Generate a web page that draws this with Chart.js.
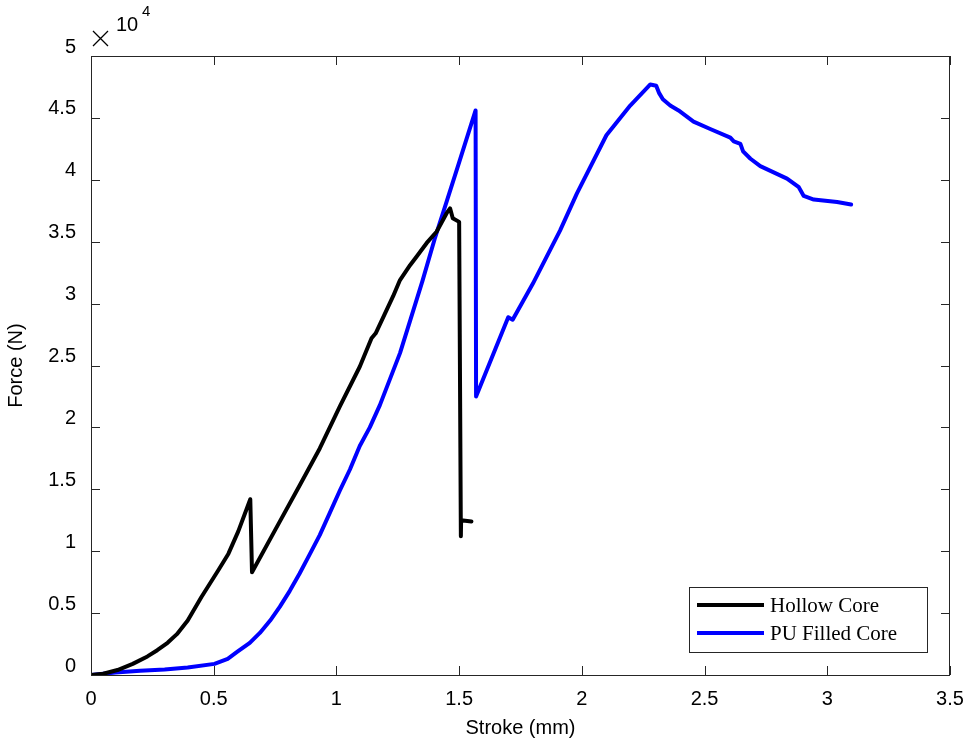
<!DOCTYPE html>
<html>
<head>
    <title>Force vs Stroke</title>
    <meta charset="utf-8">
    <style>
        body{ margin:0; background:#fff;}
        #wrap{ width:972px; height:750px;}
    </style>
    <script src="https://cdn.jsdelivr.net/npm/chart.js@4.4.0/dist/chart.umd.min.js"></script>
</head>
<body>
    <div id="wrap"><canvas id="myChart" width="972" height="750"></canvas></div>

    <script>
        // Hollow core: stroke (mm) and force (N)
        var hollowStroke = [0, 0.05, 0.108, 0.17, 0.23, 0.27, 0.312, 0.35, 0.394, 0.45, 0.52, 0.56,
            0.60, 0.649, 0.656, 0.75, 0.85, 0.932, 1.014, 1.095, 1.143, 1.16, 1.231, 1.259,
            1.30, 1.327, 1.368, 1.408, 1.449, 1.463, 1.474, 1.50, 1.507, 1.508, 1.55];
        var hollowForce = [0, 100, 400, 900, 1500, 2000, 2600, 3300, 4400, 6300, 8500, 9800,
            11600, 14200, 8300, 11700, 15300, 18300, 21700, 24900, 27200, 27600, 30600, 31900,
            33100, 33800, 34900, 35800, 37300, 37700, 36900, 36600, 11200, 12500, 12400];

        // PU filled core: stroke (mm) and force (N)
        var puStroke = [0, 0.1, 0.2, 0.3, 0.394, 0.503, 0.557, 0.598, 0.647, 0.688, 0.73, 0.769,
            0.81, 0.85, 0.89, 0.932, 0.973, 1.014, 1.055, 1.095, 1.136, 1.177, 1.218, 1.259,
            1.30, 1.35, 1.40, 1.45, 1.50, 1.567, 1.569, 1.70, 1.718, 1.80, 1.911, 1.98, 2.10,
            2.197, 2.279, 2.303, 2.315, 2.33, 2.36, 2.394, 2.455, 2.523, 2.605, 2.619, 2.646,
            2.657, 2.687, 2.727, 2.836, 2.884, 2.904, 2.945, 3.04, 3.097];
        var puForce = [0, 200, 350, 450, 600, 900, 1300, 1900, 2600, 3400, 4400, 5500,
            6800, 8200, 9700, 11300, 13100, 14900, 16600, 18500, 20000, 21800, 23900, 26000,
            28600, 31800, 35200, 38300, 41400, 45600, 22500, 28900, 28700, 31600, 35900, 38900, 43600,
            46000, 47700, 47600, 47000, 46500, 46000, 45600, 44700, 44100, 43400, 43100, 42900,
            42300, 41700, 41100, 40100, 39400, 38700, 38400, 38200, 38000];

        var xTicks = [0, 0.5, 1, 1.5, 2, 2.5, 3, 3.5];
        var yTicks = [0, 5000, 10000, 15000, 20000, 25000, 30000, 35000, 40000, 45000, 50000];

        function toPoints(xs, ys){
            return xs.map(function(x, i){ return {x: x, y: ys[i]}; });
        }

        var axisColor = '#262626';
        var tickFont = {family: '"Liberation Sans", Arial, sans-serif', size: 20};

        // box, inward ticks, exponent and legend
        const framePlugin = {
            id: 'frame',
            afterDatasetsDraw(chart){
                const ctx = chart.ctx;
                const a = chart.chartArea;
                const xs = chart.scales.x, ys = chart.scales.y;
                const tl = 9;
                ctx.save();
                ctx.strokeStyle = axisColor;
                ctx.lineWidth = 1;
                ctx.strokeRect(a.left + 0.5, a.top + 0.5, a.right - a.left - 1, a.bottom - a.top);
                ctx.beginPath();
                xTicks.forEach(function(v){
                    var px = Math.round(xs.getPixelForValue(v)) + 0.5;
                    ctx.moveTo(px, a.bottom); ctx.lineTo(px, a.bottom - tl);
                    ctx.moveTo(px, a.top); ctx.lineTo(px, a.top + tl);
                });
                yTicks.forEach(function(v){
                    var py = Math.round(ys.getPixelForValue(v)) + 0.5;
                    ctx.moveTo(a.left, py); ctx.lineTo(a.left + tl, py);
                    ctx.moveTo(a.right, py); ctx.lineTo(a.right - tl, py);
                });
                ctx.stroke();

                // x 10^4 multiplier
                ctx.fillStyle = '#000';
                ctx.lineWidth = 1.3;
                ctx.strokeStyle = '#000';
                ctx.beginPath();
                ctx.moveTo(93, 31); ctx.lineTo(108, 46);
                ctx.moveTo(108, 31); ctx.lineTo(93, 46);
                ctx.stroke();
                ctx.textBaseline = 'middle';
                ctx.textAlign = 'left';
                ctx.font = '20px "Liberation Sans", Arial, sans-serif';
                ctx.fillText('10', 116, 25);
                ctx.font = '15px "Liberation Sans", Arial, sans-serif';
                ctx.fillText('4', 142, 12);

                // legend
                const lx = 689.5, ly = 587.5, lw = 238, lh = 65;
                ctx.fillStyle = '#fff';
                ctx.fillRect(lx, ly, lw, lh);
                ctx.strokeStyle = axisColor;
                ctx.lineWidth = 1;
                ctx.strokeRect(lx, ly, lw, lh);
                ctx.font = '21px "Liberation Serif", "Times New Roman", serif';
                chart.data.datasets.forEach(function(ds, i){
                    var y = 605 + i * 28;
                    ctx.strokeStyle = ds.borderColor;
                    ctx.lineWidth = 4;
                    ctx.beginPath();
                    ctx.moveTo(697, y); ctx.lineTo(764, y);
                    ctx.stroke();
                    ctx.fillStyle = '#000';
                    ctx.fillText(ds.label, 770, y + 1);
                });
                ctx.restore();
            }
        };

        const config = {
            type: 'line',
            data: {
                datasets: [{
                    label: 'Hollow Core',
                    data: toPoints(hollowStroke, hollowForce),
                    borderColor: '#000000',
                    borderWidth: 4
                },
                {
                    label: 'PU Filled Core',
                    data: toPoints(puStroke, puForce),
                    borderColor: '#0000ff',
                    borderWidth: 4
                }]
            },
            options: {
                responsive: false,
                animation: false,
                layout: {padding: {top: 56, right: 22, left: 0, bottom: 0}},
                elements: {
                    point: {radius: 0},
                    line: {tension: 0, borderJoinStyle: 'round', borderCapStyle: 'round'}
                },
                plugins: {legend: {display: false}, tooltip: {enabled: false}},
                scales: {
                    x: {
                        type: 'linear',
                        min: 0, max: 3.5,
                        afterBuildTicks: function(s){ s.ticks = xTicks.map(function(v){ return {value: v}; }); },
                        afterFit: function(s){ s.height = 75; s.paddingLeft = 0; s.paddingRight = 0; },
                        grid: {display: false, drawTicks: false},
                        border: {display: false},
                        ticks: {
                            color: '#000', font: tickFont, padding: 12, maxRotation: 0,
                            callback: function(v){ return String(v); }
                        },
                        title: {display: true, text: 'Stroke (mm)', color: '#000', font: tickFont, padding: {top: 0, bottom: 10}}
                    },
                    y: {
                        type: 'linear',
                        min: 0, max: 50000,
                        afterBuildTicks: function(s){ s.ticks = yTicks.map(function(v){ return {value: v}; }); },
                        afterFit: function(s){ s.width = 91; s.paddingTop = 0; s.paddingBottom = 0; },
                        grid: {display: false, drawTicks: false},
                        border: {display: false},
                        ticks: {
                            color: '#000', font: tickFont, padding: 15, labelOffset: -9,
                            callback: function(v){ return String(v / 10000); }
                        },
                        title: {display: true, text: 'Force (N)', color: '#000', font: tickFont, padding: {top: 4, bottom: 0}}
                    }
                }
            },
            plugins: [framePlugin]
        };

        var myChart = new Chart(document.getElementById('myChart'), config);
    </script>
</body>
</html>
